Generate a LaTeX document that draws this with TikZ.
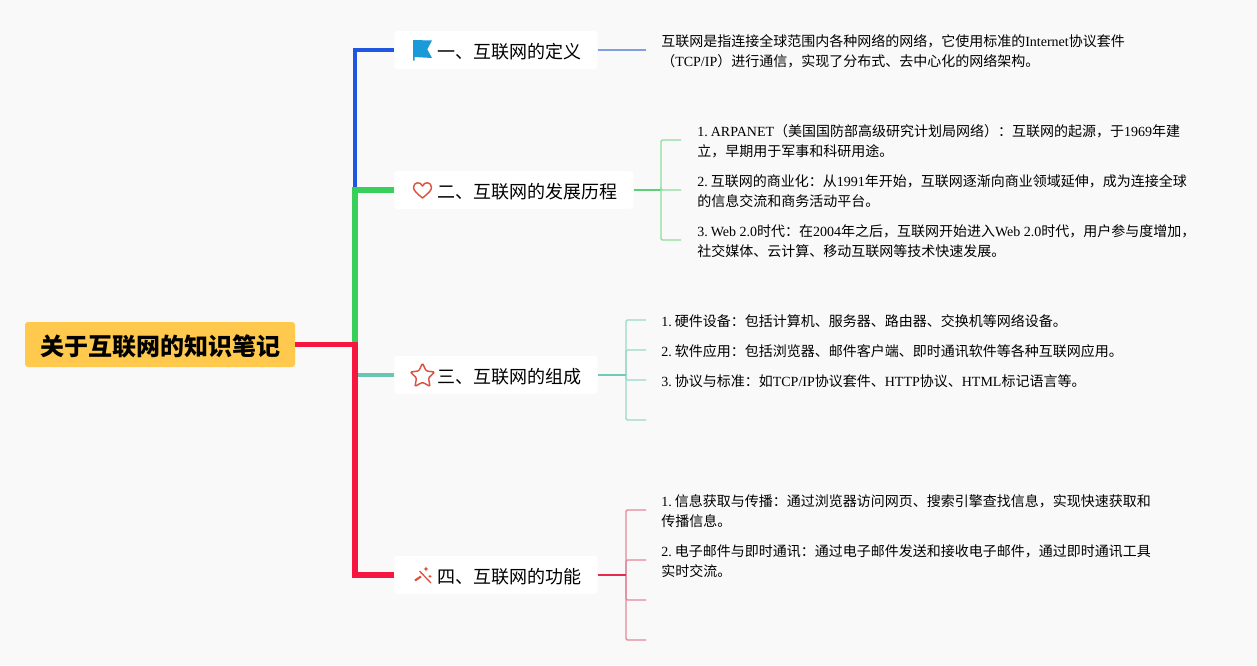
\documentclass[tikz,border=0pt]{standalone}
\usepackage{fontspec}
\setmainfont{Noto Sans CJK SC}
\newfontfamily\latinfont{Liberation Serif}
\newcommand{\lat}[1]{{\latinfont #1}}
\newcommand{\idx}[1]{\lat{#1.}\hspace{2.3pt}}
\usepackage{xcolor}
\usetikzlibrary{positioning,shapes.geometric}
\definecolor{pagebg}{HTML}{F9F9F9}
\definecolor{rootfill}{HTML}{FFC94D}
\definecolor{blueline}{HTML}{1F57E0}
\definecolor{greenline}{HTML}{38D05A}
\definecolor{tealline}{HTML}{68C6B2}
\definecolor{redline}{HTML}{F5173F}
\definecolor{bluesoft}{HTML}{7F9FE0}
\definecolor{greenstem}{HTML}{5CCF78}
\definecolor{greensoft}{HTML}{8CDE9F}
\definecolor{tealstem}{HTML}{72C9B7}
\definecolor{tealsoft}{HTML}{9AD9C8}
\definecolor{redstem}{HTML}{E8294F}
\definecolor{redsoft}{HTML}{E5869B}
\definecolor{iconred}{HTML}{DD5240}
\definecolor{iconblue}{HTML}{1A9AD8}

\begin{document}
\begin{tikzpicture}[x=.75pt,y=-.75pt,
  topicbox/.style={anchor=west,fill=white,rounded corners=2.25pt,inner xsep=0pt,inner ysep=0pt,
    minimum height=28.5pt,text height=12.6pt,text depth=0pt,font=\fontsize{13.5}{16}\selectfont},
  notebox/.style={anchor=west,inner xsep=11.25pt,inner ysep=0pt,align=left,
    font=\fontsize{10.5}{15}\selectfont},
  trunk/.style={line width=#1,line join=miter},
  twig/.style={line width=1.1pt,rounded corners=1pt}]
  \useasboundingbox (0,0) rectangle (1257,665);
  \fill[pagebg] (0,0) rectangle (1257,665);

  % root and topics
  \node[fill=rootfill,rounded corners=2.25pt,minimum width=202.5pt,minimum height=33.75pt,inner sep=0pt,
    text height=16.7pt,text depth=0pt,font=\fontsize{18}{22}\selectfont\bfseries] (root) at (160,344.5) {关于互联网的知识笔记};
  \node[topicbox] (topicA) at (394,50) {\hspace*{32.25pt}一、互联网的定义\hspace*{12pt}};
  \node[topicbox] (topicB) at (394,190) {\hspace*{32.25pt}二、互联网的发展历程\hspace*{12pt}};
  \node[topicbox] (topicC) at (394,375) {\hspace*{32.25pt}三、互联网的组成\hspace*{12pt}};
  \node[topicbox] (topicD) at (394,575) {\hspace*{32.25pt}四、互联网的功能\hspace*{12pt}};

  % trunk lines
  \coordinate (hub) at (355,344.5);
  \coordinate (hubB) at (355,190);
  \coordinate (hubC) at (355,375);
  \draw[blueline,trunk=2.6pt] (hubB) |- (topicA.west);
  \draw[greenline,trunk=3.8pt] (hub) |- (topicB.west);
  \draw[tealline,trunk=3pt] (hubC) -- (topicC.west);
  \draw[redline,trunk=4.4pt] (root.east) -- (hub) |- (topicD.west);

  % first topic
  \node[notebox] (noteA) at (646,51.5) {互联网是指连接全球范围内各种网络的网络，它使用标准的\lat{Internet}协议套件\\（\lat{TCP/IP}）进行通信，实现了分布式、去中心化的网络架构。};
  \draw[bluesoft,line width=1.1pt] (topicA.east) -- ([yshift=1.125pt]noteA.west);

  % second topic
  \coordinate (stemB) at (661,190);
  \node[notebox,inner xsep=12pt] (noteBa) at (681,141.5) {\lat{1.\hspace{2.3pt}ARPANET}（美国国防部高级研究计划局网络）：互联网的起源，于\lat{1969}年建\\立，早期用于军事和科研用途。};
  \node[notebox,inner xsep=12pt] (noteBb) at (681,191.5) {\idx{2}互联网的商业化：从\lat{1991}年开始，互联网逐渐向商业领域延伸，成为连接全球\\的信息交流和商务活动平台。};
  \node[notebox,inner xsep=12pt] (noteBc) at (681,241.5) {\lat{3.\hspace{2.3pt}Web 2.0}时代：在\lat{2004}年之后，互联网开始进入\lat{Web 2.0}时代，用户参与度增加，\\社交媒体、云计算、移动互联网等技术快速发展。};
  \draw[greenstem,line width=1.1pt] (topicB.east) -- (stemB);
  \foreach \n in {noteBa,noteBb,noteBc}{
    \draw[greensoft,twig] (stemB) |- ([yshift=1.125pt]\n.west);}

  % third topic
  \coordinate (stemC) at (626,375);
  \coordinate (leafC) at (646,420);
  \node[notebox] (noteCa) at (646,321.5) {\idx{1}硬件设备：包括计算机、服务器、路由器、交换机等网络设备。};
  \node[notebox] (noteCb) at (646,351.5) {\idx{2}软件应用：包括浏览器、邮件客户端、即时通讯软件等各种互联网应用。};
  \node[notebox] (noteCc) at (646,381.5) {\idx{3}协议与标准：如\lat{TCP/IP}协议套件、\lat{HTTP}协议、\lat{HTML}标记语言等。};
  \foreach \n in {noteCa,noteCb,noteCc}{
    \draw[tealsoft,twig] (stemC) |- ([yshift=1.125pt]\n.west);}
  \draw[tealsoft,twig] (stemC) |- (leafC);
  \draw[tealstem,line width=1.1pt] (topicC.east) -- (stemC);

  % fourth topic
  \coordinate (stemD) at (626,575);
  \coordinate (leafDa) at (646,600);
  \coordinate (leafDb) at (646,640);
  \node[notebox] (noteDa) at (646,511.5) {\idx{1}信息获取与传播：通过浏览器访问网页、搜索引擎查找信息，实现快速获取和\\传播信息。};
  \node[notebox] (noteDb) at (646,561.5) {\idx{2}电子邮件与即时通讯：通过电子邮件发送和接收电子邮件，通过即时通讯工具\\实时交流。};
  \foreach \n in {noteDa,noteDb}{
    \draw[redsoft,twig] (stemD) |- ([yshift=1.125pt]\n.west);}
  \foreach \n in {leafDa,leafDb}{
    \draw[redsoft,twig] (stemD) |- (\n);}
  \draw[redstem,line width=1.1pt] (topicD.east) -- (stemD);

  % icons
  \fill[iconblue] (413,40) -- (432,40.5) -- (427.3,49.3) -- (432,58) -- (414.5,57) -- (414.5,60.5) -- (413,60.5) -- cycle;
  \draw[iconred,line width=1.1pt,line join=round] (422.5,198) .. controls (417,193.5) and (413.5,190.5) .. (413.5,187.5)
    .. controls (413.5,182) and (420.5,181) .. (422.5,186) .. controls (424.5,181) and (431.5,182) .. (431.5,187.5)
    .. controls (431.5,190.5) and (428,193.5) .. (422.5,198) -- cycle;
  \node[star,star points=5,star point ratio=2,draw=iconred,line width=1.1pt,rounded corners=.8pt,fill=none,minimum size=19pt,inner sep=0pt] (iconC) at (422.5,376) {};
  \draw[iconred,line width=1pt] (419.5,571) -- (431,583);
  \draw[iconred,line width=1.6pt] (415,580.5) -- (421,576.5);
  \fill[iconred] (426,566.5) -- (426.8,568.2) -- (428.5,569) -- (426.8,569.8) -- (426,571.5) -- (425.2,569.8) -- (423.5,569) -- (425.2,568.2) -- cycle;
  \fill[iconred] (430,574.5) -- (430.6,575.7) -- (431.8,576.3) -- (430.6,576.9) -- (430,578.1) -- (429.4,576.9) -- (428.2,576.3) -- (429.4,575.7) -- cycle;
\end{tikzpicture}
\end{document}
